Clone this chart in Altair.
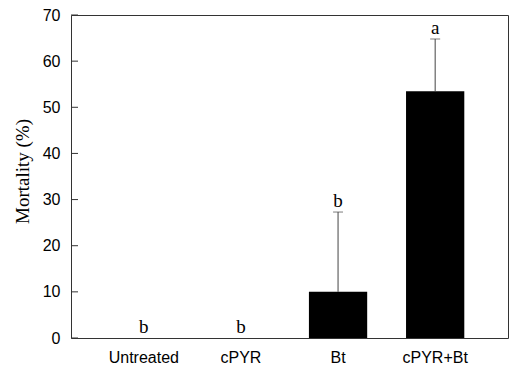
import altair as alt
import pandas as pd

treatments = ["Untreated", "cPYR", "Bt", "cPYR+Bt"]
mortality = [0.0, 0.0, 10.0, 53.5]
upper_err = [0.0, 0.0, 27.3, 64.8]
letters = ["b", "b", "b", "a"]
y_ticks = [0, 10, 20, 30, 40, 50, 60, 70]

df = pd.DataFrame({
    "treatment": treatments,
    "mortality": mortality,
    "upper": upper_err,
    "letter": letters,
})
ticks_df = pd.DataFrame({"v": y_ticks})

xscale = alt.Scale(domain=treatments, paddingInner=0.4, paddingOuter=0.45)
yscale = alt.Scale(domain=[0, 70], nice=False)

x_enc = alt.X("treatment:N", scale=xscale, sort=treatments,
              axis=alt.Axis(title=None, labelAngle=0, ticks=False, domain=False,
                            labelFont="Liberation Sans", labelFontSize=16,
                            labelColor="black", labelPadding=11))
y_enc = alt.Y("mortality:Q", scale=yscale,
              axis=alt.Axis(title="Mortality (%)", values=y_ticks, grid=False,
                            ticks=False, domain=False,
                            labelFont="Liberation Sans", labelFontSize=16,
                            labelColor="black", labelPadding=11,
                            titleFont="Liberation Serif", titleFontSize=19,
                            titleFontWeight="normal", titleColor="black",
                            titleAngle=270, titleX=-43, titleY=156,
                            titleAlign="center", titleBaseline="alphabetic"))

bars = alt.Chart(df).mark_bar(color="black").encode(x=x_enc, y=y_enc)

err_df = df[df["upper"] > 0]
err = alt.Chart(err_df).mark_rule(color="#444", strokeWidth=1).encode(
    x=alt.X("treatment:N", scale=xscale, sort=treatments),
    y=alt.Y("mortality:Q", scale=yscale),
    y2="upper:Q",
)
caps = alt.Chart(err_df).mark_tick(color="#444", thickness=1, size=10, orient="horizontal").encode(
    x=alt.X("treatment:N", scale=xscale, sort=treatments),
    y=alt.Y("upper:Q", scale=yscale),
)
text = alt.Chart(df).mark_text(font="Liberation Serif", fontSize=19, color="black",
                               baseline="alphabetic", dy=-5).encode(
    x=alt.X("treatment:N", scale=xscale, sort=treatments),
    y=alt.Y("upper:Q", scale=yscale),
    text="letter:N",
)
inner_ticks = alt.Chart(ticks_df).mark_rule(color="#333", strokeWidth=1).encode(
    y=alt.Y("v:Q", scale=yscale),
    x=alt.value(0),
    x2=alt.value(7),
)

chart = alt.layer(bars, err, caps, text, inner_ticks).properties(
    width=437, height=323,
    autosize=alt.AutoSizeParams(type="none"),
    padding={"left": 63, "top": 7, "right": 2, "bottom": 30},
    background="white",
).configure_view(stroke="#333", strokeWidth=1)

chart.save("out.html", embed_options={"renderer": "svg", "actions": False})
